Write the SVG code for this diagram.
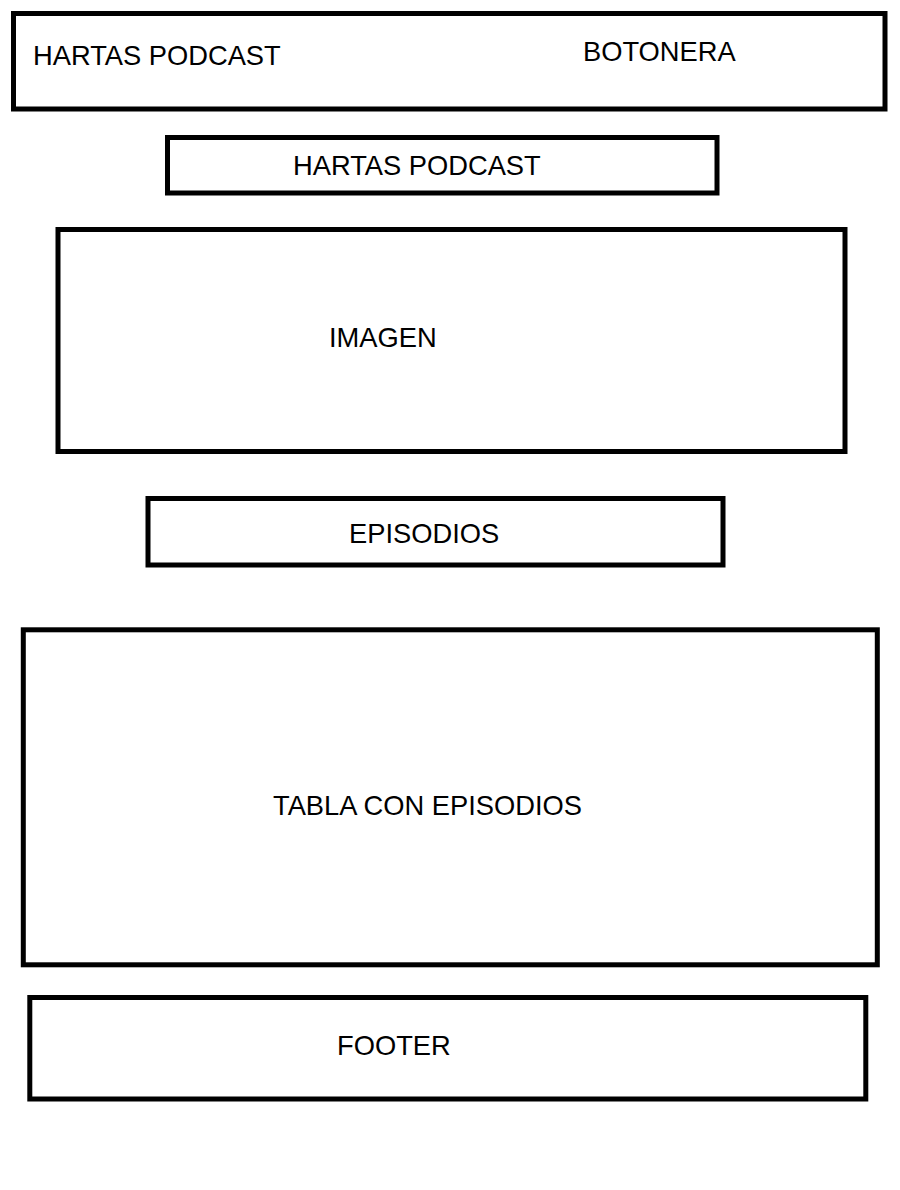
<svg xmlns="http://www.w3.org/2000/svg" width="900" height="1190" viewBox="0 0 900 1190">
<style>
.box{fill:#fff;stroke:#000;stroke-width:5}
.lbl{font-family:"Liberation Sans",Arial,sans-serif;font-size:27.3px;fill:#000}
</style>
<rect width="900" height="1190" fill="#fff"/>
<g id="header">
<rect class="box" x="13.5" y="13.5" width="871.5" height="95.5"/>
<text class="lbl" x="33" y="64.5">HARTAS PODCAST</text>
<text class="lbl" x="583" y="60.5">BOTONERA</text>
</g>
<g id="title">
<rect class="box" x="167.5" y="137.5" width="549.5" height="55.5"/>
<text class="lbl" x="293" y="174.5">HARTAS PODCAST</text>
</g>
<g id="imagen">
<rect class="box" x="58" y="229.5" width="787" height="222"/>
<text class="lbl" x="329" y="346.5">IMAGEN</text>
</g>
<g id="episodios">
<rect class="box" x="148" y="498.5" width="575" height="66.5"/>
<text class="lbl" x="349" y="542.5">EPISODIOS</text>
</g>
<g id="tabla">
<rect class="box" x="23.3" y="629.8" width="854" height="335"/>
<text class="lbl" x="273" y="814.5">TABLA CON EPISODIOS</text>
</g>
<g id="footer">
<rect class="box" x="29.8" y="997.5" width="836" height="101.5"/>
<text class="lbl" x="337" y="1055">FOOTER</text>
</g>
<g id="connectors"></g>
</svg>
